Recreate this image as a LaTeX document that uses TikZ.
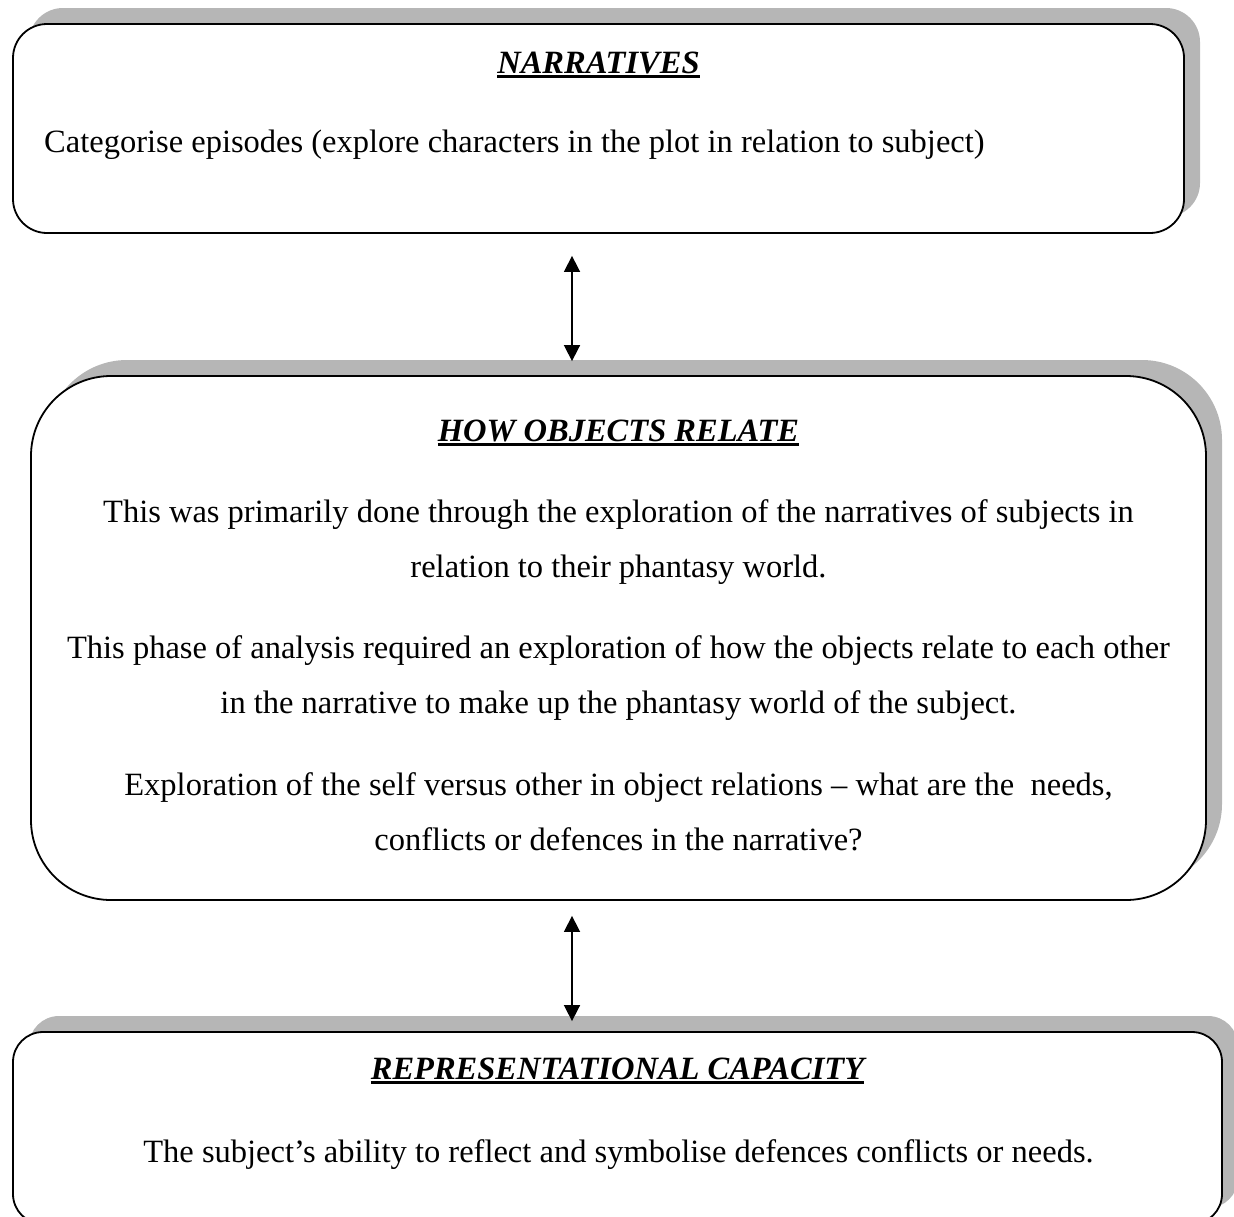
\documentclass[tikz,border=0pt]{standalone}
\usepackage{fontspec}
\setmainfont{Liberation Serif}
\usepackage{tikz}
\usetikzlibrary{arrows.meta,positioning,shadows}
\definecolor{ink}{HTML}{000000}
\definecolor{shade}{HTML}{B6B6B6}
\newcommand\heading[1]{\setbox0\hbox{\bfseries\itshape #1}%
  \rlap{\rule[-5pt]{\wd0}{3pt}}\box0}
\tikzset{
  panel/.style ={draw=ink,line width=1.8pt,fill=white,inner sep=0pt,
                 drop shadow={shadow xshift=16pt,shadow yshift=16pt,
                              fill=shade,opacity=1}},
  title/.style ={inner sep=0pt,anchor=base,font=\fontsize{32.5}{54.5}\selectfont},
  body/.style  ={inner sep=0pt,anchor=base,align=center,
                 font=\fontsize{32.5}{54.5}\selectfont},
  link/.style  ={{Triangle[length=16pt,width=16pt]}-{Triangle[length=16pt,width=16pt]},
                 line width=1.6pt,draw=ink}
}
\begin{document}
\begin{tikzpicture}[x=1pt,y=-1pt]
    \useasboundingbox (0,0) rectangle (1234,1216);
    \clip (0,0) rectangle (1234,1216);
    \coordinate (ax) at (572,0);
    \node[panel,rounded corners=34pt,minimum width=1171pt,minimum height=209pt] (n1) at (598.5,128.5) {};
    \node[panel,rounded corners=80pt,minimum width=1175pt,minimum height=524pt] (n2) at (618.5,638) {};
    \node[panel,rounded corners=30pt,minimum width=1209pt,minimum height=192pt] (n3) at (617.5,1128) {};
    \node[title] (t1) at (598.5,73) {\heading{NARRATIVES}};
    \node[body,anchor=base west] (b1) at (44,152) {Categorise episodes (explore characters in the plot in relation to subject)};
    \node[title] (t2) at (618.5,441) {\heading{HOW OBJECTS RELATE}};
    \node[body] (p1) at (618.5,577) {This was primarily done through the exploration of the narratives of subjects in\\relation to their phantasy world.};
    \node[body] (p2) at (618.5,713) {This phase of analysis required an exploration of how the objects relate to each other\\in the narrative to make up the phantasy world of the subject.};
    \node[body] (p3) at (618.5,850) {Exploration of the self versus other in object relations -- what are the~ needs,\\conflicts or defences in the narrative?};
    \node[title] (t3) at (617.5,1079) {\heading{REPRESENTATIONAL CAPACITY}};
    \node[body] (b3) at (618.5,1162) {The subject’s ability to reflect and symbolise defences conflicts or needs.};
    \draw[link,shorten <=22pt,shorten >=14pt] (n1.south -| ax) -- (n2.north -| ax);
    \draw[link,shorten <=15pt,shorten >=10pt] (n2.south -| ax) -- (n3.north -| ax);
  \end{tikzpicture}
\end{document}
